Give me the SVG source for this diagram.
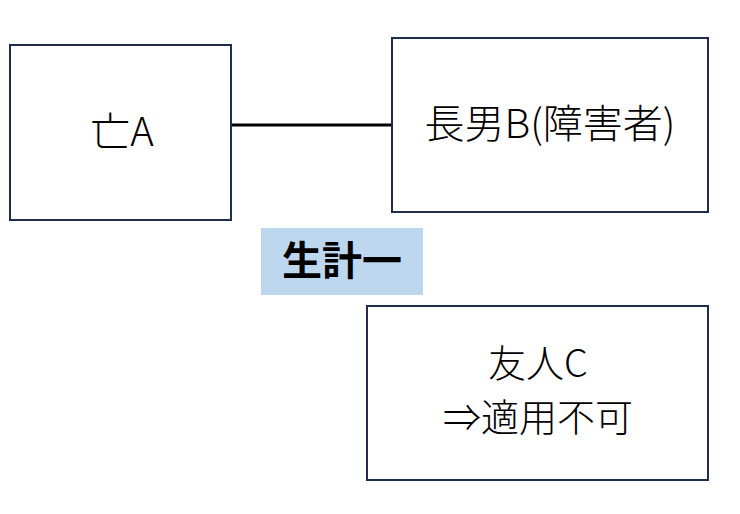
<svg xmlns="http://www.w3.org/2000/svg" width="740" height="514" viewBox="0 0 740 514">
<style>
.box{fill:#fff;stroke:#1f2d4a;stroke-width:2}
.t{font-family:"Noto Sans CJK JP","Noto Sans",sans-serif;font-size:40px;font-weight:300;fill:#000;text-anchor:middle}
.b{font-size:40px;font-weight:bold}
.c{font-size:38px}
</style>
<rect width="740" height="514" fill="#fff"/>
<g id="connectors"><line x1="231" y1="125" x2="392" y2="125" stroke="#000" stroke-width="3"/></g>
<g id="nodeA"><rect class="box" x="10" y="45" width="221" height="175"/><text class="t" x="122" y="146">亡A</text></g>
<g id="nodeB"><rect class="box" x="392" y="38" width="316" height="174"/><text class="t" x="550" y="138">長男B(障害者)</text></g>
<g id="label"><rect x="261" y="228" width="162" height="67" fill="#bdd7ee"/><text class="t b" x="342" y="275">生計一</text></g>
<g id="nodeC"><rect class="box" x="367" y="306" width="341" height="174"/><text class="t c" x="538" y="377">友人C</text><text class="t c" x="538" y="431">⇒適用不可</text></g>
</svg>
